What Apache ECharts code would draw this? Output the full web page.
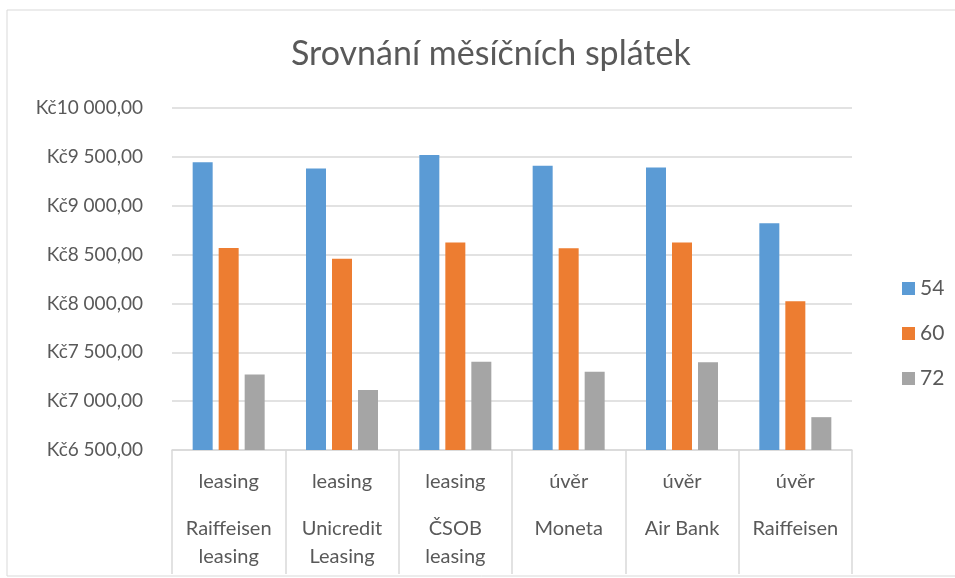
<!DOCTYPE html>
<html>
<head>
<meta charset="utf-8">
<script src="https://cdn.jsdelivr.net/npm/echarts@6/dist/echarts.min.js"></script>
<style>
  html, body { margin: 0; padding: 0; background: #fff; }
  #chart { width: 955px; height: 578px; }
</style>
</head>
<body>
<div id="chart"></div>
<script>
// kategorie: typ produktu a banka
const types = ['leasing', 'leasing', 'leasing', 'úvěr', 'úvěr', 'úvěr']
const banks = ['Raiffeisen\nleasing', 'Unicredit\nLeasing', 'ČSOB\nleasing', 'Moneta', 'Air Bank', 'Raiffeisen']
const seriesNames = ['54', '60', '72']

// měsíční splátky podle počtu měsíců
const rates54 = [9445, 9380, 9520, 9408, 9390, 8820]
const rates60 = [8568, 8456, 8623, 8565, 8623, 8023]
const rates72 = [7272, 7115, 7402, 7300, 7398, 6836]

const colors = ['#5B9BD5', '#ED7D31', '#A5A5A5']
const font = 'Lato, "Noto Sans", sans-serif'

const chart = echarts.init(document.getElementById('chart'))

// formát Kč9 500,00
const formatKc = (v) => {
  const s = String(Math.round(v)).replace(/\B(?=(\d{3})+(?!\d))/g, ' ')
  return 'Kč' + s + ',00'
}

const makeBar = (name, data, color) => ({
  name: name,
  type: 'bar',
  data: data,
  barWidth: 20,
  barGap: '30%',
  itemStyle: { color: color }
})

const option = {
  animation: false,
  textStyle: { fontFamily: font },
  title: {
    text: 'Srovnání měsíčních splátek',
    left: 286,
    top: 32,
    textStyle: { fontFamily: font, fontSize: 34, fontWeight: 'normal', color: '#595959' }
  },
  graphic: [{
    type: 'rect',
    shape: { x: 7, y: 10, width: 960, height: 566 },
    style: { fill: 'none', stroke: '#d9d9d9', lineWidth: 1 },
    silent: true
  }],
  legend: {
    data: seriesNames,
    orient: 'vertical',
    left: 897,
    top: 273,
    itemWidth: 13,
    itemHeight: 13,
    itemGap: 24,
    icon: 'rect',
    textStyle: { fontFamily: font, fontSize: 21, color: '#595959', lineHeight: 21 }
  },
  grid: { left: 172, right: 103, top: 108, bottom: 128 },
  xAxis: {
    type: 'category',
    data: banks,
    axisLine: { lineStyle: { color: '#d9d9d9', width: 1.5 } },
    axisTick: { show: true, interval: 0, length: 124, lineStyle: { color: '#d9d9d9', width: 1.5 } },
    axisLabel: {
      interval: 0,
      margin: 12,
      formatter: (v, i) => {
        const parts = v.split('\n').map(p => '{n|' + p + '}').join('\n')
        return '{t|' + types[i] + '}\n{s| }\n' + parts
      },
      rich: {
        t: { fontFamily: font, fontSize: 20, color: '#595959', lineHeight: 40 },
        s: { fontSize: 10, lineHeight: 13 },
        n: { fontFamily: font, fontSize: 20, color: '#595959', lineHeight: 28 }
      }
    }
  },
  yAxis: {
    type: 'value',
    min: 6500,
    max: 10000,
    interval: 500,
    axisLine: { show: false },
    axisTick: { show: false },
    axisLabel: {
      formatter: formatKc,
      margin: 29,
      fontFamily: font,
      fontSize: 19,
      color: '#595959'
    },
    splitLine: { lineStyle: { color: '#d9d9d9', width: 1.5 } }
  },
  series: [
    makeBar(seriesNames[0], rates54, colors[0]),
    makeBar(seriesNames[1], rates60, colors[1]),
    makeBar(seriesNames[2], rates72, colors[2])
  ]
}

chart.setOption(option)
</script>
</body>
</html>
